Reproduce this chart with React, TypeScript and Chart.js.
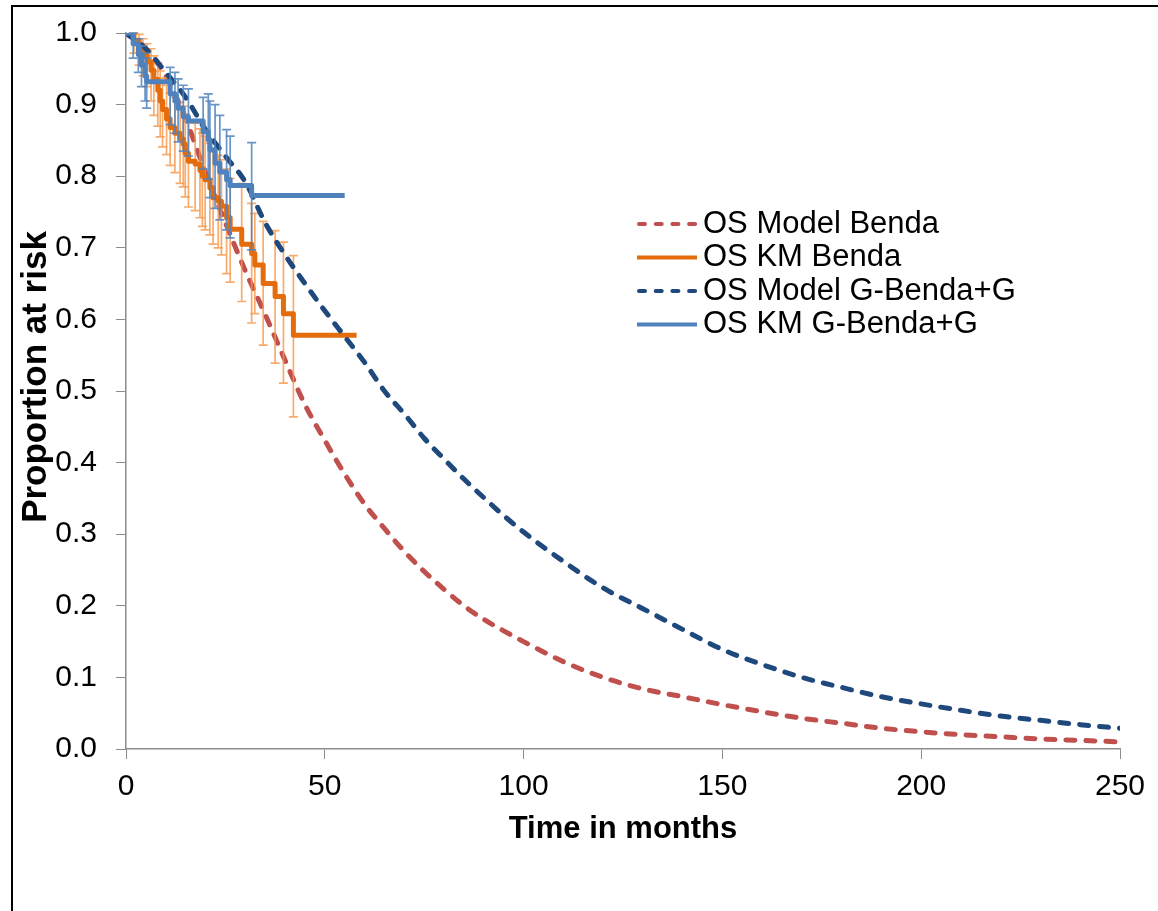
import React, { useEffect, useRef } from "react";
import { Chart, registerables } from "chart.js";

Chart.register(...registerables);

// ---------- DATA ----------
const seriesLabels = ["OS Model Benda", "OS KM Benda", "OS Model G-Benda+G", "OS KM G-Benda+G"];
const xAxisTitle = "Time in months";
const yAxisTitle = "Proportion at risk";

const modelMonths = [
  0, 5, 10, 15, 20, 25, 30, 35, 40, 45, 50, 55, 60, 65, 70, 75, 80, 85, 90, 95, 100,
  110, 120, 130, 140, 150, 160, 170, 180, 190, 200, 210, 220, 230, 240, 250,
];
const modelBenda = [
  1.0, 0.978, 0.94, 0.88, 0.805, 0.735, 0.668, 0.607, 0.543, 0.481, 0.431, 0.384, 0.342, 0.308,
  0.276, 0.248, 0.223, 0.2, 0.181, 0.165, 0.15,
  0.122, 0.1, 0.084, 0.073, 0.062, 0.052, 0.043, 0.036, 0.029, 0.024, 0.02, 0.017, 0.014, 0.012, 0.01,
];
const modelGBenda = [
  1.0, 0.978, 0.945, 0.91, 0.865, 0.828, 0.792, 0.735, 0.69, 0.65, 0.612, 0.576, 0.54, 0.5,
  0.468, 0.434, 0.405, 0.377, 0.351, 0.326, 0.303,
  0.262, 0.225, 0.196, 0.167, 0.139, 0.118, 0.1, 0.086, 0.073, 0.063, 0.054, 0.046, 0.04, 0.034, 0.029,
];

const kmBendaMonths = [
  0, 2.0, 3.3, 4.3, 5.3, 6.3, 7.0, 8.0, 8.6, 9.2, 10.2, 11.1, 12.3, 13.6, 14.4, 14.9, 15.7, 17.4,
  18.6, 19.2, 19.9, 21.1, 21.9, 23.2, 24.0, 25.3, 26.2, 29.1, 31.6, 32.4, 34.5, 37.5, 39.6, 42.1, 58.0,
];
const kmBenda = [
  1.0, 0.99, 0.98, 0.97, 0.96, 0.948, 0.935, 0.92, 0.905, 0.893, 0.88, 0.868, 0.86, 0.852, 0.845,
  0.832, 0.821, 0.817, 0.808, 0.8, 0.795, 0.784, 0.77, 0.765, 0.758, 0.742, 0.726, 0.705, 0.692,
  0.676, 0.65, 0.632, 0.608, 0.578, 0.578,
];
const kmBendaLower = [
  null, 0.972, 0.955, 0.94, 0.925, 0.905, 0.885, 0.87, 0.855, 0.841, 0.83, 0.815, 0.805, 0.79, 0.785,
  0.771, 0.757, 0.752, 0.742, 0.73, 0.725, 0.718, 0.705, 0.7, 0.69, 0.664, 0.652, 0.625, 0.595,
  0.608, 0.564, 0.539, 0.511, 0.464, null,
];
const kmBendaUpper = [
  null, 1.0, 0.998, 0.992, 0.985, 0.978, 0.968, 0.958, 0.947, 0.937, 0.927, 0.916, 0.91, 0.903, 0.898,
  0.887, 0.878, 0.874, 0.866, 0.86, 0.856, 0.846, 0.834, 0.829, 0.823, 0.81, 0.797, 0.79, 0.762,
  0.748, 0.737, 0.724, 0.708, 0.689, null,
];

const kmGMonths = [
  0, 1.8, 3.1, 3.9, 4.8, 5.2, 11.1, 12.3, 13.1, 14.4, 15.7, 19.4, 20.7, 21.1, 22.4, 23.6, 25.3, 26.2, 31.6, 55.0,
];
const kmG = [
  1.0, 0.985, 0.97, 0.955, 0.94, 0.932, 0.915, 0.905, 0.895, 0.883, 0.877, 0.862, 0.851, 0.837,
  0.818, 0.806, 0.795, 0.787, 0.773, 0.773,
];
const kmGLower = [
  null, 0.965, 0.945, 0.925, 0.905, 0.895, 0.872, 0.86, 0.848, 0.835, 0.828, 0.81, 0.796, 0.77,
  0.755, 0.739, 0.725, 0.714, 0.697, null,
];
const kmGUpper = [
  null, 1.0, 0.992, 0.982, 0.972, 0.965, 0.952, 0.945, 0.936, 0.927, 0.922, 0.91, 0.915, 0.905,
  0.9, 0.885, 0.865, 0.856, 0.847, null,
];

// ---------- STYLES ----------
const FONT = "'Liberation Sans', Arial, sans-serif";
const COL_MODEL_B = "#C0504D";
const COL_KM_B = "#E46C0A";
const COL_MODEL_G = "#1F497D";
const COL_KM_G = "#4F81BD";
const COL_ERR_B = "rgba(247,150,70,0.8)";
const COL_ERR_G = "rgba(79,129,189,0.85)";
const AXIS_GRAY = "#8C8C8C";

const toPts = (xs: number[], ys: number[]) => xs.map((x, i) => ({ x, y: ys[i] }));

const errorBarPlugin = {
  id: "kmErrorBars",
  beforeDatasetDraw(chart: any, args: any) {
    const ds = chart.data.datasets[args.index];
    if (!ds.errLow) return;
    const xs = chart.scales.x;
    const ys = chart.scales.y;
    const ctx = chart.ctx;
    ctx.save();
    ctx.strokeStyle = ds.errColor;
    ctx.lineWidth = 1.7;
    const cap = 4.5;
    ds.data.forEach((p: any, i: number) => {
      const lo = ds.errLow[i];
      const hi = ds.errHigh[i];
      if (lo == null || hi == null) return;
      const px = xs.getPixelForValue(p.x);
      const yl = ys.getPixelForValue(lo);
      const yh = ys.getPixelForValue(hi);
      ctx.beginPath();
      ctx.moveTo(px, yl);
      ctx.lineTo(px, yh);
      ctx.moveTo(px - cap, yl);
      ctx.lineTo(px + cap, yl);
      ctx.moveTo(px - cap, yh);
      ctx.lineTo(px + cap, yh);
      ctx.stroke();
    });
    ctx.restore();
  },
};

const legendStyles = [
  { color: COL_MODEL_B, dash: [6, 10.7] },
  { color: COL_KM_B, dash: [] as number[] },
  { color: COL_MODEL_G, dash: [6, 10.7] },
  { color: COL_KM_G, dash: [] as number[] },
];

const customLegendPlugin = {
  id: "customLegend",
  afterDraw(chart: any) {
    const ctx = chart.ctx;
    const x0 = 637;
    const x1 = 697;
    const tx = 703;
    const y0 = 224;
    const dy = 33.5;
    ctx.save();
    seriesLabels.forEach((label, i) => {
      const y = y0 + i * dy;
      const st = legendStyles[i];
      ctx.beginPath();
      ctx.strokeStyle = st.color;
      ctx.lineWidth = 4;
      ctx.lineCap = st.dash.length ? "round" : "butt";
      ctx.setLineDash(st.dash);
      ctx.moveTo(x0 + (st.dash.length ? 2 : 0), y);
      ctx.lineTo(x1, y);
      ctx.stroke();
      ctx.setLineDash([]);
      ctx.fillStyle = "#000";
      ctx.font = `31px ${FONT}`;
      ctx.textBaseline = "middle";
      ctx.textAlign = "left";
      ctx.fillText(label, tx, y);
    });
    // y-axis title
    ctx.translate(36, 377);
    ctx.rotate(-Math.PI / 2);
    ctx.font = `bold 35px ${FONT}`;
    ctx.textAlign = "center";
    ctx.textBaseline = "middle";
    ctx.fillText(yAxisTitle, 0, 0);
    ctx.restore();
  },
};

export default function App() {
  const canvasRef = useRef<HTMLCanvasElement | null>(null);

  useEffect(() => {
    if (!canvasRef.current) return;
    const chart = new Chart(canvasRef.current, {
      type: "scatter",
      data: {
        datasets: [
          {
            label: seriesLabels[3],
            data: toPts(kmGMonths, kmG),
            showLine: true,
            stepped: "before",
            borderColor: COL_KM_G,
            borderWidth: 5,
            borderJoinStyle: "round",
            pointRadius: 0,
            errLow: kmGLower,
            errHigh: kmGUpper,
            errColor: COL_ERR_G,
          } as any,
          {
            label: seriesLabels[2],
            data: toPts(modelMonths, modelGBenda),
            showLine: true,
            borderColor: COL_MODEL_G,
            borderWidth: 5,
            borderDash: [9, 11],
            borderCapStyle: "round",
            cubicInterpolationMode: "monotone",
            pointRadius: 0,
          } as any,
          {
            label: seriesLabels[1],
            data: toPts(kmBendaMonths, kmBenda),
            showLine: true,
            stepped: "before",
            borderColor: COL_KM_B,
            borderWidth: 5,
            borderJoinStyle: "round",
            pointRadius: 0,
            errLow: kmBendaLower,
            errHigh: kmBendaUpper,
            errColor: COL_ERR_B,
          } as any,
          {
            label: seriesLabels[0],
            data: toPts(modelMonths, modelBenda),
            showLine: true,
            borderColor: COL_MODEL_B,
            borderWidth: 5,
            borderDash: [9, 11],
            borderCapStyle: "round",
            cubicInterpolationMode: "monotone",
            pointRadius: 0,
          } as any,
        ],
      },
      options: {
        responsive: false,
        animation: false,
        layout: { padding: { left: 14, top: 33, right: 38, bottom: 63 } },
        plugins: {
          legend: { display: false },
          tooltip: { enabled: false },
        },
        scales: {
          x: {
            type: "linear",
            min: 0,
            max: 250,
            ticks: {
              stepSize: 50,
              color: "#000",
              font: { family: FONT, size: 30 },
              padding: 10,
              maxRotation: 0,
            },
            grid: {
              display: true,
              drawOnChartArea: false,
              drawTicks: true,
              tickLength: 10,
              color: AXIS_GRAY,
            },
            border: { display: true, color: AXIS_GRAY, width: 1.5 },
            title: {
              display: true,
              text: xAxisTitle,
              color: "#000",
              font: { family: FONT, size: 31, weight: "bold" },
              padding: { top: 0, bottom: 0 },
            },
            afterFit: (scale: any) => {
              scale.height = 99;
            },
          },
          y: {
            type: "linear",
            min: 0,
            max: 1,
            ticks: {
              stepSize: 0.1,
              color: "#000",
              font: { family: FONT, size: 30 },
              padding: 19,
              callback: (v: any) => Number(v).toFixed(1),
            },
            grid: {
              display: true,
              drawOnChartArea: false,
              drawTicks: true,
              tickLength: 10,
              color: AXIS_GRAY,
            },
            border: { display: true, color: AXIS_GRAY, width: 1.5 },
            title: { display: false },
            afterFit: (scale: any) => {
              scale.width = 112;
              scale.paddingTop = 10;
              scale.paddingBottom = 10;
            },
          },
        },
      },
      plugins: [errorBarPlugin, customLegendPlugin],
    });
    return () => chart.destroy();
  }, []);

  return (
    <div
      style={{
        position: "absolute",
        left: 0,
        top: 0,
        width: 1158,
        height: 911,
        background: "#fff",
        overflow: "hidden",
      }}
    >
      <div
        style={{
          position: "absolute",
          left: 11,
          top: 5,
          width: 1147,
          height: 906,
          borderLeft: "2px solid #000",
          borderTop: "2px solid #000",
          boxSizing: "border-box",
        }}
      />
      <canvas
        ref={canvasRef}
        width={1158}
        height={911}
        style={{ position: "absolute", left: 0, top: 0, width: 1158, height: 911 }}
      />
    </div>
  );
}
